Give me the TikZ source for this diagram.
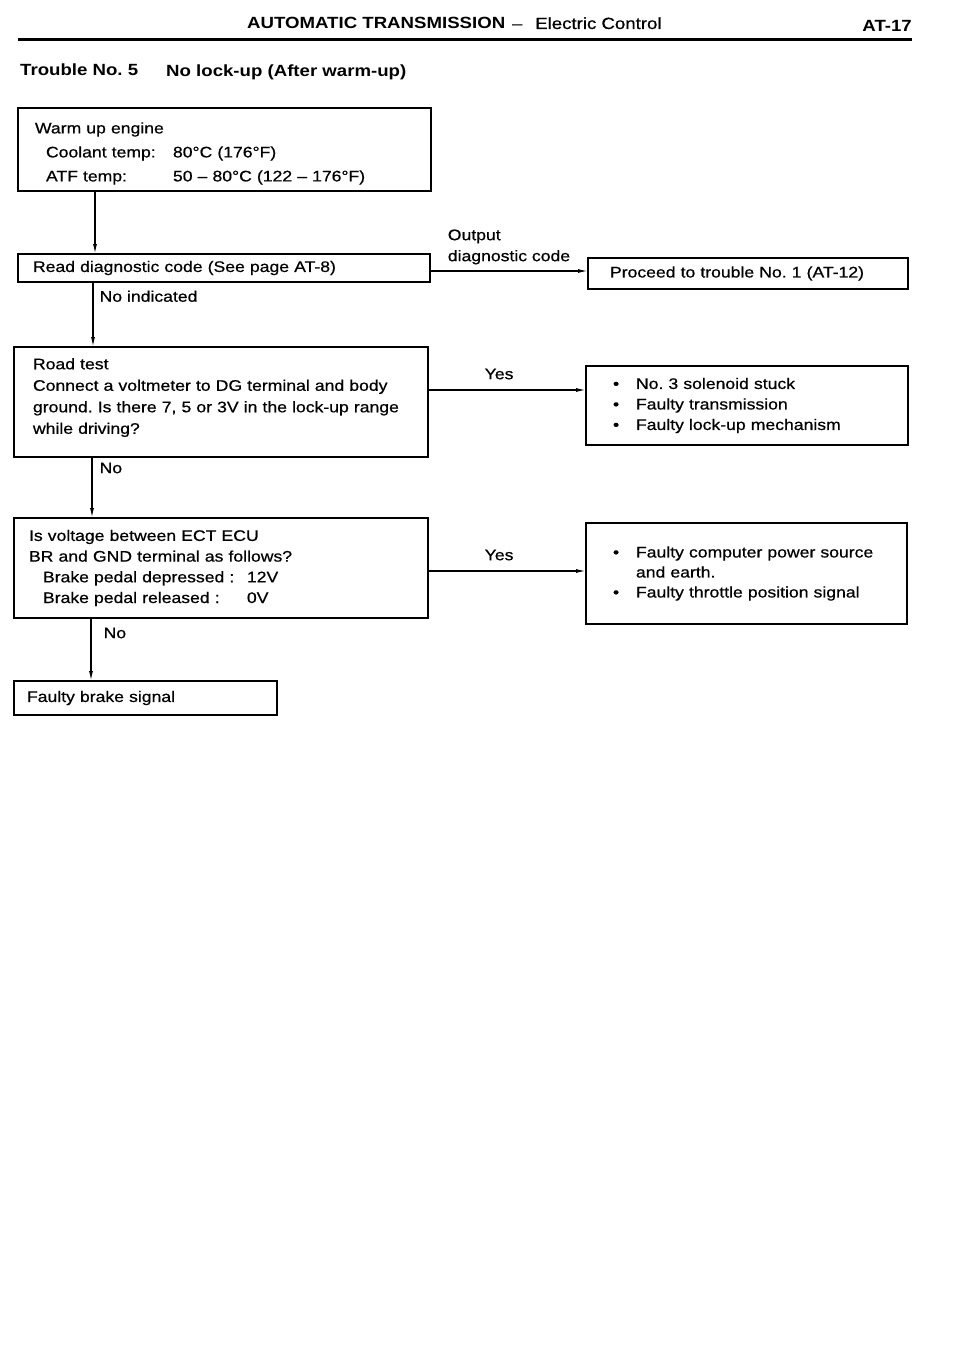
\documentclass[tikz,border=0pt]{standalone}
\usepackage{fontspec}
\setmainfont{Liberation Sans}[FakeStretch=1.15, UprightFeatures={FakeBold=0.6}]
\usetikzlibrary{arrows.meta}
\usetikzlibrary{positioning}
\tikzset{->/.style = {-{Latex[length = 10pt, width = 4pt]}}}
\tikzset{box/.style = {draw, line width = 1.6pt, anchor = north west, align = left,
                       inner ysep = 0pt, outer sep = 0pt}}
\tikzset{lab/.style = {inner sep = 2pt}}
\newcommand{\headfont}{\fontsize{16.2}{20}\selectfont\bfseries}
\frenchspacing

\begin{document}
\begin{tikzpicture}[x = 1pt, y = -1pt, font = \fontsize{15.3}{21}\selectfont]
      \path [fill = white, use as bounding box] (0, 0) rectangle (960, 1359);
      \node (head) [anchor = base west, inner sep = 0] at (247, 29)
            {{\headfont AUTOMATIC TRANSMISSION}\hspace{4pt}{\fontsize{16.2}{20}\selectfont
             \makebox[16pt]{–}\hspace{10pt}Electric Control}};
      \node (page) [anchor = base east, inner sep = 0] at (912, 32) {\headfont AT-17};
      \draw [line width = 3pt] (18, 40) -- (912, 40);
      \node (trouble) [anchor = base west, inner sep = 0] at (20, 76) {\headfont Trouble No. 5};
      \node (title) [anchor = base west, inner sep = 0] at (166, 77) {\headfont No lock-up (After warm-up)};

      % left column
      \node (warm) [box, inner xsep = 17pt, text width = 379pt, minimum height = 83pt,
                    font = \fontsize{15.3}{24}\selectfont] at (18, 108)
            {\rule{0pt}{19pt}Warm up engine\\
             \hspace*{11pt}\makebox[127pt][l]{Coolant temp:}80°C (176°F)\\
             \hspace*{11pt}\makebox[127pt][l]{ATF temp:}50 – 80°C (122 – 176°F)};
      \node (read) [box, inner xsep = 15pt, text width = 382pt, minimum height = 28pt] at (18, 254)
            {Read diagnostic code (See page AT-8)};
      \node (road) [box, inner xsep = 19pt, text width = 376pt, minimum height = 110pt,
                    font = \fontsize{15.3}{21.5}\selectfont] at (14, 347)
            {Road test\\
             Connect a voltmeter to DG terminal and body\\
             ground. Is there 7, 5 or 3V in the lock-up range\\
             while driving?\rule[-12pt]{0pt}{12pt}};
      \node (volt) [box, inner xsep = 15pt, text width = 384pt, minimum height = 100pt,
                    font = \fontsize{15.3}{20.7}\selectfont] at (14, 518)
            {Is voltage between ECT ECU\\
             BR and GND terminal as follows?\\
             \hspace*{14pt}\makebox[204pt][l]{Brake pedal depressed :}12V\\
             \hspace*{14pt}\makebox[204pt][l]{Brake pedal released :}0V};
      \node (brake) [box, inner xsep = 13pt, text width = 237pt, minimum height = 34pt] at (14, 681)
            {Faulty brake signal};

      % right column
      \node (proceed) [box, inner xsep = 22pt, text width = 276pt, minimum height = 31pt] at (588, 258)
            {Proceed to trouble No. 1 (AT-12)};
      \node (stuck) [box, inner xsep = 27pt, text width = 268pt, minimum height = 79pt,
                     font = \fontsize{15.3}{20.5}\selectfont] at (586, 366)
            {\makebox[23pt][l]{\textbullet}No. 3 solenoid stuck\\
             \makebox[23pt][l]{\textbullet}Faulty transmission\\
             \makebox[23pt][l]{\textbullet}Faulty lock-up mechanism};
      \node (power) [box, inner xsep = 27pt, text width = 267pt, minimum height = 101pt,
                     font = \fontsize{15.3}{20}\selectfont] at (586, 523)
            {\makebox[23pt][l]{\textbullet}Faulty computer power source\\
             \hspace*{23pt}and earth.\\
             \makebox[23pt][l]{\textbullet}Faulty throttle position signal};

      % connectors
      \draw [->, line width = 1.3pt] ([xshift = 77pt]warm.south west) -- ([xshift = 77pt]warm.south west |- read.north);
      \draw [->, line width = 1.3pt] ([xshift = 75pt]read.south west) -- ([xshift = 75pt]read.south west |- road.north)
            node [lab, pos = 0, below right = 6pt and 4pt] (noind) {No indicated};
      \draw [->, line width = 1.3pt] ([xshift = 78pt]road.south west) -- ([xshift = 78pt]road.south west |- volt.north)
            node [lab, pos = 0, below right = 3pt and 5pt] (no1) {No};
      \draw [->, line width = 1.3pt] ([xshift = 77pt]volt.south west) -- ([xshift = 77pt]volt.south west |- brake.north)
            node [lab, pos = 0, below right = 7pt and 10pt] (no2) {No};
      \draw [->, line width = 1.3pt] ([yshift = -3pt]read.east) -- ([yshift = -3pt]read.east -| proceed.west)
            node [lab, pos = 0.5, above = 4pt, align = left] (output) {Output\\diagnostic code};
      \draw [->, line width = 1.3pt] ([yshift = 12pt]road.east) -- ([yshift = 12pt]road.east -| stuck.west)
            node [lab, pos = 0.45, above = 8pt] (yes1) {Yes};
      \draw [->, line width = 1.3pt] ([yshift = -3pt]volt.east) -- ([yshift = -3pt]volt.east -| power.west)
            node [lab, pos = 0.45, above = 8pt] (yes2) {Yes};
\end{tikzpicture}
\end{document}
